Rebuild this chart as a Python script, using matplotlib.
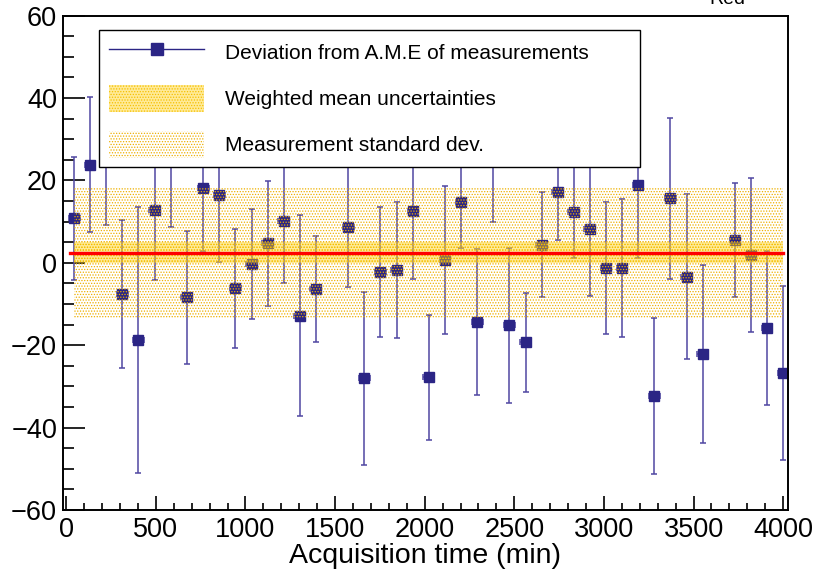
import numpy as np
import matplotlib
matplotlib.use('Agg')
import matplotlib.pyplot as plt
from matplotlib.lines import Line2D
from matplotlib.ticker import MultipleLocator

plt.rcParams['font.family'] = ['Liberation Sans', 'DejaVu Sans']
plt.rcParams['hatch.linewidth'] = 0.6

##################
# DATA ###########
##################

# acquisition time (min)
acq_time = [44, 133, 223, 312, 403, 493, 584, 673, 764, 853, 943, 1034, 1123, 1214, 1302,
            1391, 1573, 1662, 1752, 1843, 1934, 2023, 2113, 2202, 2293, 2382, 2472, 2563,
            2652, 2742, 2831, 2920, 3011, 3100, 3190, 3281, 3370, 3461, 3551, 3731, 3820,
            3910, 4000]
# deviation from A.M.E
deviation = [10.8, 23.8, 26.5, -7.6, -18.7, 12.8, 27.0, -8.4, 18.2, 16.5, -6.2, -0.3, 4.7,
             10.1, -12.8, -6.4, 8.8, -28.0, -2.3, -1.75, 12.5, -27.8, 0.7, 14.8, -14.3, 28.0,
             -15.2, -19.3, 4.4, 17.3, 12.3, 8.2, -1.3, -1.3, 18.9, -32.3, 15.7, -3.4, -22.1,
             5.5, 1.9, -15.8, -26.7]
deviation_err = [15.0, 16.4, 17.4, 18.0, 32.3, 16.9, 18.4, 16.1, 15.4, 16.4, 14.5, 13.3, 15.2,
                 15.0, 24.3, 12.9, 14.7, 21.0, 15.8, 16.5, 16.4, 15.2, 18.0, 11.3, 17.7, 18.0,
                 18.8, 12.0, 12.7, 11.8, 11.0, 16.2, 16.0, 16.8, 17.8, 18.9, 19.5, 20.0, 21.6,
                 13.8, 18.6, 18.8, 21.2]
time_err = 30

weighted_mean = 2.5
weighted_mean_unc = 2.6
meas_std_dev = 15.9
mean_line_start = 20

labels = ['Deviation from A.M.E of measurements',
          'Weighted mean uncertainties',
          'Measurement standard dev.']

##################

marker_color = '#2b2585'
err_color = '#4f47a2'

fig = plt.figure(figsize=(8.17, 5.71), dpi=100)
ax = fig.add_axes([0.0767, 0.1068, 0.8874, 0.8657])

t = np.array(acq_time)
y = np.array(deviation)
yerr = np.array(deviation_err)

ax.errorbar(t, y, yerr=yerr, xerr=time_err, fmt='s', color=marker_color, ms=7,
            ecolor=err_color, elinewidth=1.1, capsize=2, capthick=1.1, zorder=2)

band_x = [t[0], t[-1]]
std_band = ax.fill_between(band_x, weighted_mean - meas_std_dev, weighted_mean + meas_std_dev,
                           facecolor='none', edgecolor='#eeb000', hatch='......', linewidth=0,
                           zorder=3)
wm_band = ax.fill_between(band_x, weighted_mean - weighted_mean_unc, weighted_mean + weighted_mean_unc,
                          facecolor=(1.0, 0.82, 0.1, 0.45), edgecolor='#f5c000', hatch='......',
                          linewidth=0, zorder=4)
ax.plot([mean_line_start, t[-1]], [weighted_mean, weighted_mean], color='#ff0000', lw=2.4, zorder=5)

ax.set_xlim(-20, 4025)
ax.set_ylim(-60, 60)
ax.xaxis.set_major_locator(MultipleLocator(500))
ax.xaxis.set_minor_locator(MultipleLocator(100))
ax.yaxis.set_major_locator(MultipleLocator(20))
ax.yaxis.set_minor_locator(MultipleLocator(5))
ax.tick_params(axis='x', which='major', direction='in', length=10, width=1.2, labelsize=19.5, pad=5)
ax.tick_params(axis='x', which='minor', direction='in', length=5, width=1.2)
ax.tick_params(axis='y', which='major', direction='in', length=16, width=1.2, labelsize=19.5, pad=4)
ax.tick_params(axis='y', which='minor', direction='in', length=8, width=1.2)
for s in ax.spines.values():
    s.set_linewidth(1.4)

ax.set_xlabel('Acquisition time (min)', fontsize=20.5, labelpad=0)

handles = [Line2D([], [], color=marker_color, lw=1, marker='s', ms=8),
           wm_band, std_band]
leg = ax.legend(handles, labels, loc='upper left', bbox_to_anchor=(0.0505, 0.6885, 0.7465, 0.2832),
                mode='expand', fontsize=15, frameon=True, fancybox=False, framealpha=1,
                edgecolor='black', handlelength=4.6, handleheight=1.6, handletextpad=1.0,
                labelspacing=0.92, borderpad=0.45, borderaxespad=0)
leg.get_frame().set_linewidth(1.0)
leg.set_zorder(10)

fig.text(727 / 817, 1 - 3.5 / 571, 'Red', ha='center', va='baseline', fontsize=14)

fig.savefig('out.png', dpi=100)
